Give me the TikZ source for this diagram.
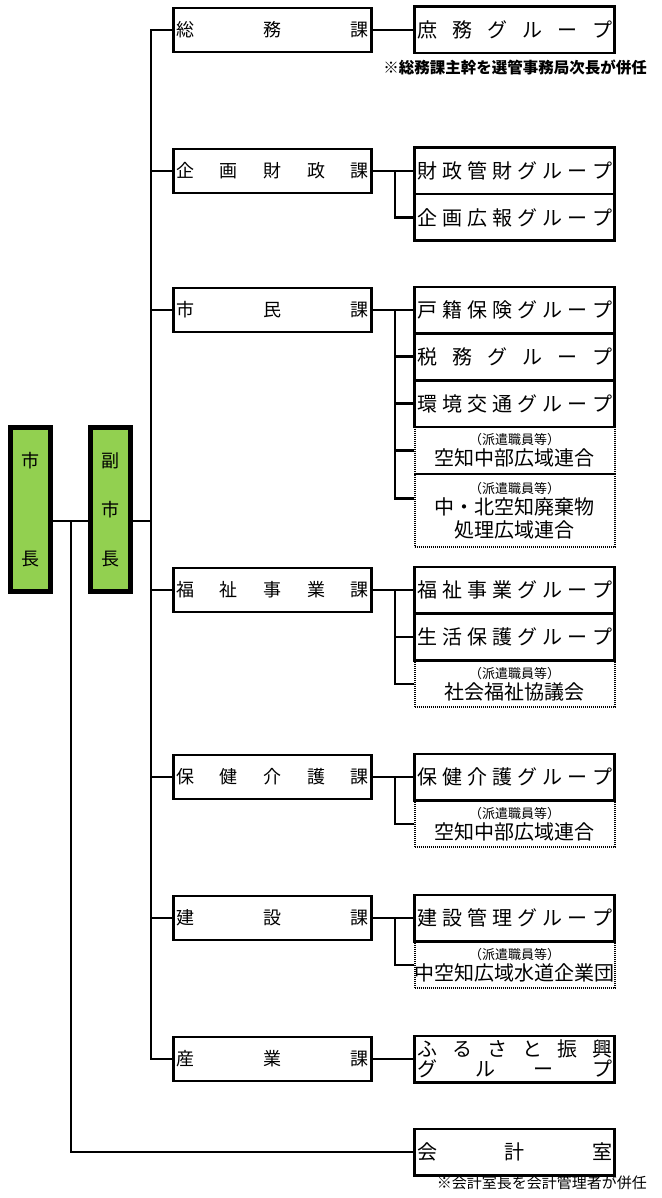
\documentclass[tikz,border=0pt]{standalone}
\usepackage{fontspec}
\setmainfont{Noto Sans CJK JP}
\definecolor{chiefgreen}{HTML}{92D050}
\newcommand{\spreadtext}[2]{\makebox[#1][s]{#2}}
\newcommand{\haken}{{\fontsize{13}{15}\selectfont （派遣職員等）}}
\tikzset{
  chief/.style={draw,line width=5pt,fill=chiefgreen,minimum width=40pt,minimum height=164pt,inner sep=0pt,align=center,font=\fontsize{18}{20}\selectfont},
  dept/.style={draw,line width=2.5pt,minimum width=198pt,minimum height=44pt,inner sep=0pt,font=\fontsize{18}{20}\selectfont},
  grp/.style={draw,line width=2.5pt,fill=white,minimum width=200pt,minimum height=46.5pt,inner sep=0pt,align=center,font=\fontsize{20}{23}\selectfont},
  sent/.style={draw,line width=2pt,dash pattern=on 1.2pt off 0.8pt,minimum width=200pt,minimum height=46.5pt,inner sep=0pt,align=center,font=\fontsize{20}{23}\selectfont},
  note/.style={anchor=east,inner sep=0pt,font=\fontsize{15}{18}\selectfont},
  link/.style={line width=2.5pt},
}
\begin{document}
\begin{tikzpicture}[x=1pt,y=-1pt]
\useasboundingbox (0,0) rectangle (661,1198);
% mayor and deputy
\node[chief] (mayor) at (30.5,509.5) {市\\[78pt]長};
\node[chief] (deputy) at (110.5,509.5) {副\\[29pt]市\\[29pt]長};
% departments
\node[dept] (soumu) at (272.5,30) {\spreadtext{192pt}{総\hfill 務\hfill 課}};
\node[dept] (kikaku) at (272.5,171) {\spreadtext{192pt}{企\hfill 画\hfill 財\hfill 政\hfill 課}};
\node[dept] (shimin) at (272.5,310) {\spreadtext{192pt}{市\hfill 民\hfill 課}};
\node[dept] (fukushi) at (272.5,590) {\spreadtext{192pt}{福\hfill 祉\hfill 事\hfill 業\hfill 課}};
\node[dept] (hoken) at (272.5,777) {\spreadtext{192pt}{保\hfill 健\hfill 介\hfill 護\hfill 課}};
\node[dept] (kensetsu) at (272.5,918) {\spreadtext{192pt}{建\hfill 設\hfill 課}};
\node[dept] (sangyo) at (272.5,1059) {\spreadtext{192pt}{産\hfill 業\hfill 課}};
% dispatched bodies (dotted)
\node[sent] (sorachia) at (514.5,450.5) {\haken\\[-2pt]空知中部広域連合};
\node[sent,minimum height=73pt] (haiki) at (514.5,510.5) {\haken\\[-2pt]中・北空知廃棄物\\処理広域連合};
\node[sent] (shakyo) at (514.5,684) {\haken\\[-2pt]社会福祉協議会};
\node[sent] (sorachib) at (514.5,824) {\haken\\[-2pt]空知中部広域連合};
\node[sent] (suido) at (514.5,965) {\haken\\[-2pt]中空知広域水道企業団};
% groups
\node[grp] (shomu) at (514.5,30) {\spreadtext{195pt}{庶\hfill 務\hfill グ\hfill ル\hfill ー\hfill プ}};
\node[grp] (zaisei) at (514.5,171) {\spreadtext{195pt}{財\hfill 政\hfill 管\hfill 財\hfill グ\hfill ル\hfill ー\hfill プ}};
\node[grp] (kouhou) at (514.5,217.5) {\spreadtext{195pt}{企\hfill 画\hfill 広\hfill 報\hfill グ\hfill ル\hfill ー\hfill プ}};
\node[grp] (koseki) at (514.5,310) {\spreadtext{195pt}{戸\hfill 籍\hfill 保\hfill 険\hfill グ\hfill ル\hfill ー\hfill プ}};
\node[grp] (zeimu) at (514.5,356.5) {\spreadtext{195pt}{税\hfill 務\hfill グ\hfill ル\hfill ー\hfill プ}};
\node[grp] (kankyo) at (514.5,403.5) {\spreadtext{195pt}{環\hfill 境\hfill 交\hfill 通\hfill グ\hfill ル\hfill ー\hfill プ}};
\node[grp] (fukushig) at (514.5,590) {\spreadtext{195pt}{福\hfill 祉\hfill 事\hfill 業\hfill グ\hfill ル\hfill ー\hfill プ}};
\node[grp] (seikatsu) at (514.5,637) {\spreadtext{195pt}{生\hfill 活\hfill 保\hfill 護\hfill グ\hfill ル\hfill ー\hfill プ}};
\node[grp] (hokeng) at (514.5,777) {\spreadtext{195pt}{保\hfill 健\hfill 介\hfill 護\hfill グ\hfill ル\hfill ー\hfill プ}};
\node[grp] (kensetsug) at (514.5,918) {\spreadtext{195pt}{建\hfill 設\hfill 管\hfill 理\hfill グ\hfill ル\hfill ー\hfill プ}};
\node[grp] (furusato) at (514.5,1059) {\spreadtext{195pt}{ふ\hfill る\hfill さ\hfill と\hfill 振\hfill 興}\\[-3pt]\spreadtext{195pt}{グ\hfill ル\hfill ー\hfill プ}};
\node[grp] (kaikei) at (514.5,1152) {\spreadtext{195pt}{会\hfill 計\hfill 室}};
% notes
\node[note,font=\fontsize{15.5}{18}\selectfont\bfseries] (note1) at (647,68) {※総務課主幹を選管事務局次長が併任};
\node[note] (note2) at (647,1183) {※会計室長を会計管理者が併任};
% connectors
\coordinate (spine) at (151,0);
\coordinate (branch) at (395,0);
\coordinate (trunk) at (71,0);
\coordinate (jn) at (0,521);
\draw[link] (mayor.east |- jn) -- (deputy.west |- jn);
\draw[link] (deputy.east |- jn) -- (spine |- jn);
\draw[link] (trunk |- jn) |- (kaikei.west);
\draw[link] (soumu.west) -| (spine |- sangyo.west) -- (sangyo.west);
\foreach \d in {kikaku,shimin,fukushi,hoken,kensetsu}
  \draw[link] (\d.west) -- (spine |- \d.west);
\foreach \d/\g in {soumu/shomu,kikaku/zaisei,shimin/koseki,fukushi/fukushig,hoken/hokeng,kensetsu/kensetsug,sangyo/furusato}
  \draw[link] (\d.east) -- (\g.west);
\foreach \d/\g in {kikaku/kouhou,shimin/zeimu,shimin/kankyo,shimin/sorachia,fukushi/seikatsu,fukushi/shakyo,hoken/sorachib,kensetsu/suido}
  \draw[link] (branch |- \d.east) |- (\g.west);
\draw[link] (branch |- shimin.east) |- ([yshift=12pt]haiki.west);
\end{tikzpicture}
\end{document}
